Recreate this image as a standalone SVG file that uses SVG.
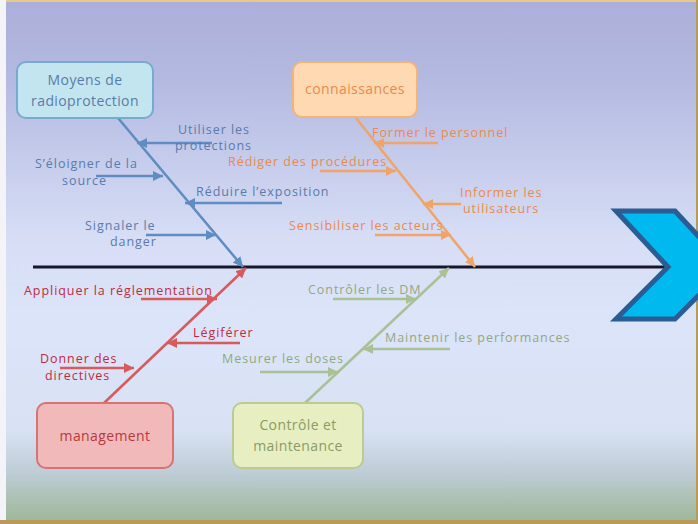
<svg xmlns="http://www.w3.org/2000/svg" width="698" height="524" viewBox="0 0 698 524">
<defs>
<linearGradient id="bg" x1="0" y1="0" x2="0" y2="1">
<stop offset="0" stop-color="#abafd9"/>
<stop offset="0.15" stop-color="#b4b9e1"/>
<stop offset="0.45" stop-color="#d6ddf5"/>
<stop offset="0.6" stop-color="#dce4f9"/>
<stop offset="0.82" stop-color="#d8e2f4"/>
<stop offset="0.9" stop-color="#bfcdd7"/>
<stop offset="1" stop-color="#9cb694"/>
</linearGradient>
<marker id="aB" markerUnits="userSpaceOnUse" markerWidth="12" markerHeight="10" refX="10" refY="5" orient="auto"><path d="M0,0 L10,5 L0,10 Z" fill="#5f8cc2"/></marker>
<marker id="aO" markerUnits="userSpaceOnUse" markerWidth="12" markerHeight="10" refX="10" refY="5" orient="auto"><path d="M0,0 L10,5 L0,10 Z" fill="#f0a468"/></marker>
<marker id="aR" markerUnits="userSpaceOnUse" markerWidth="12" markerHeight="10" refX="10" refY="5" orient="auto"><path d="M0,0 L10,5 L0,10 Z" fill="#d85a5a"/></marker>
<marker id="aG" markerUnits="userSpaceOnUse" markerWidth="12" markerHeight="10" refX="10" refY="5" orient="auto"><path d="M0,0 L10,5 L0,10 Z" fill="#a9c194"/></marker>
</defs>
<style>
text{font-family:"Open Sans","Liberation Sans",sans-serif;font-size:12.5px;letter-spacing:0.95px;}
.box{stroke-width:2;}
.bt{font-size:14px;text-anchor:middle;letter-spacing:0.4px;}
.lb{fill:#5a7bab;}
.lo{fill:#ea8a4c;}
.lr{fill:#c22a40;}
.lg{fill:#93a87e;}
.cB{stroke:#5f8cc2;stroke-width:2.5;fill:none;marker-end:url(#aB);}
.cO{stroke:#f0a468;stroke-width:2.5;fill:none;marker-end:url(#aO);}
.cR{stroke:#d85a5a;stroke-width:2.5;fill:none;marker-end:url(#aR);}
.cG{stroke:#a9c194;stroke-width:2.5;fill:none;marker-end:url(#aG);}
</style>
<rect x="0" y="0" width="698" height="524" fill="#f4f4f8"/>
<rect x="6" y="0" width="692" height="524" fill="url(#bg)"/>
<rect x="6" y="0" width="692" height="2" fill="#e8c888"/>
<rect x="0" y="520" width="698" height="4" fill="#b89a5a"/>
<rect x="696" y="0" width="2" height="524" fill="#b89a5a"/>

<g id="spine">
<line x1="33" y1="267" x2="672" y2="267" stroke="#15172b" stroke-width="3"/>
<polygon points="616,211 675,211 727,267 675,319 616,319 668,267" fill="#00b9ef" stroke="#2a5d94" stroke-width="5" stroke-linejoin="miter"/>
</g>

<g id="connectors">
<line class="cB" x1="118" y1="118" x2="243" y2="267"/>
<line class="cO" x1="356" y1="118" x2="475" y2="267"/>
<line class="cR" x1="104" y1="403" x2="246" y2="268"/>
<line class="cG" x1="305" y1="403" x2="449" y2="268"/>

<line class="cB" x1="212" y1="143" x2="137" y2="143"/>
<line class="cB" x1="96" y1="176" x2="163" y2="176"/>
<line class="cB" x1="282" y1="203" x2="185" y2="203"/>
<line class="cB" x1="146" y1="235" x2="216" y2="235"/>

<line class="cO" x1="438" y1="143" x2="374" y2="143"/>
<line class="cO" x1="320" y1="171" x2="396" y2="171"/>
<line class="cO" x1="461" y1="204" x2="423" y2="204"/>
<line class="cO" x1="375" y1="235" x2="451" y2="235"/>

<line class="cR" x1="141" y1="299" x2="217" y2="299"/>
<line class="cR" x1="240" y1="343" x2="167" y2="343"/>
<line class="cR" x1="60" y1="368" x2="134" y2="368"/>

<line class="cG" x1="333" y1="299" x2="416" y2="299"/>
<line class="cG" x1="450" y1="349" x2="363" y2="349"/>
<line class="cG" x1="260" y1="372" x2="338" y2="372"/>
</g>

<g id="moyens">
<rect class="box" x="17" y="62" width="136" height="56" rx="9" fill="#c3e5ef" stroke="#78aad0"/>
<text class="bt lb" x="85" y="85">Moyens de</text>
<text class="bt lb" x="85" y="106">radioprotection</text>
</g>
<g id="connaissances">
<rect class="box" x="293" y="62" width="124" height="55" rx="9" fill="#fed9b2" stroke="#f2b478"/>
<text class="bt lo" x="355" y="94">connaissances</text>
</g>
<g id="management">
<rect class="box" x="37" y="403" width="136" height="65" rx="9" fill="#f1b9ba" stroke="#d67474"/>
<text class="bt lr" x="105" y="441" style="fill:#b83a3a">management</text>
</g>
<g id="controle">
<rect class="box" x="233" y="403" width="130" height="65" rx="9" fill="#e7efc2" stroke="#bccb94"/>
<text class="bt lg" x="298" y="430" style="fill:#8c9a66">Contrôle et</text>
<text class="bt lg" x="298" y="451" style="fill:#8c9a66">maintenance</text>
</g>

<g id="labels-blue">
<text class="lb" x="178" y="134">Utiliser les</text>
<text class="lb" x="175" y="150">protections</text>
<text class="lb" x="35" y="168">S’éloigner de la</text>
<text class="lb" x="62" y="185">source</text>
<text class="lb" x="196" y="196">Réduire l’exposition</text>
<text class="lb" x="85" y="230">Signaler le</text>
<text class="lb" x="110" y="246">danger</text>
</g>
<g id="labels-orange">
<text class="lo" x="372" y="137">Former le personnel</text>
<text class="lo" x="228" y="166">Rédiger des procédures</text>
<text class="lo" x="460" y="197">Informer les</text>
<text class="lo" x="463" y="213">utilisateurs</text>
<text class="lo" x="289" y="230">Sensibiliser les acteurs</text>
</g>
<g id="labels-red">
<text class="lr" x="24" y="295">Appliquer la réglementation</text>
<text class="lr" x="193" y="337">Légiférer</text>
<text class="lr" x="40" y="363">Donner des</text>
<text class="lr" x="45" y="380">directives</text>
</g>
<g id="labels-green">
<text class="lg" x="308" y="294">Contrôler les DM</text>
<text class="lg" x="385" y="342">Maintenir les performances</text>
<text class="lg" x="222" y="363">Mesurer les doses</text>
</g>
</svg>
